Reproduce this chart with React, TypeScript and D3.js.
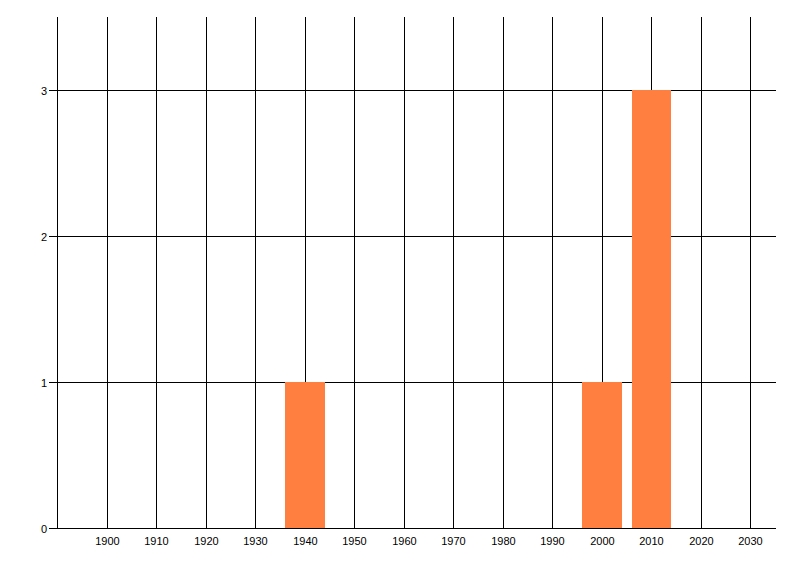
import React from 'react';
import * as d3 from 'd3';

const years = [1940, 2000, 2010];
const counts = [1, 1, 3];
const xTicks = [1900, 1910, 1920, 1930, 1940, 1950, 1960, 1970, 1980, 1990, 2000, 2010, 2020, 2030];
const yTicks = [0, 1, 2, 3];

export default function App() {
  const width = 800;
  const height = 576;
  const left = 57.5;
  const right = 775.3;
  const top = 17;
  const bottom = 528.5;

  const x = d3.scaleLinear().domain([1890, 2035]).range([left, right]);
  const y = d3.scaleLinear().domain([0, 3.5]).range([bottom, top]);
  const barHalf = 4;
  const font = '"Liberation Sans", Arial, sans-serif';
  // keep 1px lines on the pixel grid
  const snap = (v: number) => Math.floor(v) + 0.5;

  return (
    <svg
      width={width}
      height={height}
      style={{ position: 'absolute', left: 0, top: 0, background: '#fff' }}
    >
      {/* vertical grid */}
      {xTicks.map(t => (
        <line key={'vx' + t} x1={snap(x(t))} x2={snap(x(t))} y1={top} y2={bottom} stroke="#000" strokeWidth={1} />
      ))}
      {/* horizontal grid with tick stubs */}
      {yTicks.map(t => (
        <line key={'hy' + t} x1={49} x2={776} y1={snap(y(t))} y2={snap(y(t))} stroke="#000" strokeWidth={1} />
      ))}
      {/* bars */}
      {years.map((yr, i) => (
        <rect
          key={'b' + yr}
          x={Math.round(x(yr - barHalf))}
          y={Math.floor(y(counts[i]))}
          width={Math.round(x(yr + barHalf)) - Math.round(x(yr - barHalf))}
          height={Math.floor(y(0)) - Math.floor(y(counts[i]))}
          fill="#ff7f41"
        />
      ))}
      {/* axes */}
      <line x1={snap(left)} x2={snap(left)} y1={top} y2={bottom} stroke="#000" strokeWidth={1} />
      <line x1={49} x2={776} y1={snap(y(0))} y2={snap(y(0))} stroke="#000" strokeWidth={1} />
      {/* tick labels */}
      {xTicks.map(t => (
        <text key={'tx' + t} x={snap(x(t))} y={545} textAnchor="middle" fontFamily={font} fontSize={11} fill="#000">
          {t}
        </text>
      ))}
      {yTicks.map(t => (
        <text key={'ty' + t} x={47} y={snap(y(t)) + 4} textAnchor="end" fontFamily={font} fontSize={11} fill="#000">
          {t}
        </text>
      ))}
    </svg>
  );
}
